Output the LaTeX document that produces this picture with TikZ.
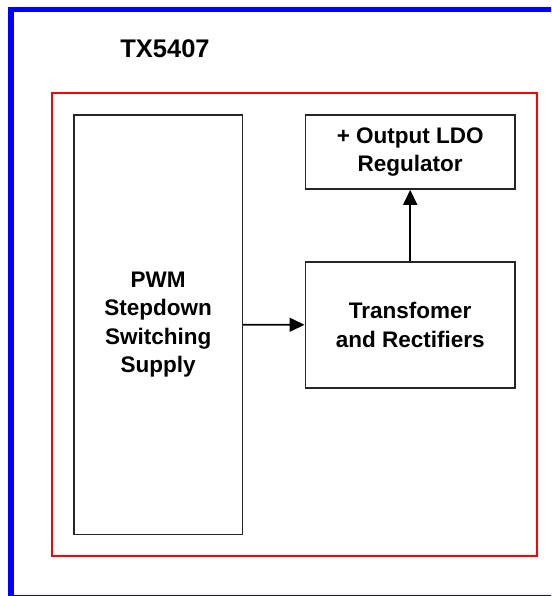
\documentclass[tikz,border=0pt]{standalone}
\usepackage{fontspec}
\setmainfont{Liberation Sans}
\usetikzlibrary{arrows.meta,positioning}

\begin{document}
\begin{tikzpicture}[>={Triangle[length=15pt,width=14pt]},x=1pt,y=1pt,font=\fontsize{22.5pt}{28.5pt}\selectfont\bfseries]
\tikzstyle{block}=[draw=black!85,line width=1.7pt,inner sep=0pt,align=center]
\useasboundingbox (0,0) rectangle (551,-596);
\clip (0,0) rectangle (551,-596);
% outer frame (cut off at right and bottom)
\draw[blue,line width=5.5pt] (11,-9.5) rectangle (570,-597.8);
% inner frame
\draw[red,line width=2pt] (51.7,-93.5) rectangle (536.7,-556);
\node (title) at (165,-49) {\fontsize{25.5pt}{30pt}\selectfont TX5407};
\node[block,minimum width=168.3,minimum height=419.3] (pwm) at (158.2,-324.7) {PWM\\Stepdown\\Switching\\Supply};
\node[block,minimum width=209.7,minimum height=126.3] (trf) at (410.2,-324.8) {Transfomer\\and Rectifiers};
\node[block,minimum width=209.7,minimum height=74] (ldo) at (410.2,-152) {+ Output LDO\\Regulator};
\draw[->,line width=1.6pt] (pwm) -- (trf);
\draw[->,line width=1.6pt] (trf) -- (ldo);
\end{tikzpicture}
\end{document}
